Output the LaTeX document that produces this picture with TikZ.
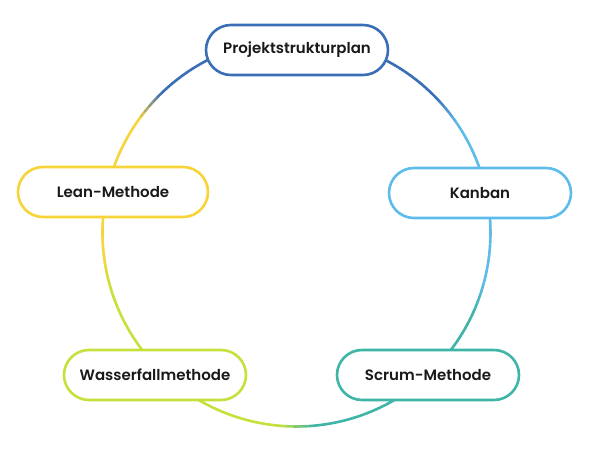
\documentclass[tikz,border=0pt]{standalone}
\usepackage{fontspec}
\setmainfont{Poppins}[BoldFont={Poppins SemiBold}]
\usetikzlibrary{calc}

\definecolor{pspblue}{RGB}{58,110,182}
\definecolor{kbblue}{RGB}{94,188,234}
\definecolor{scteal}{RGB}{62,181,166}
\definecolor{wflime}{RGB}{200,224,60}
\definecolor{lnyellow}{RGB}{247,212,58}

\begin{document}
\begin{tikzpicture}[x=1pt,y=1pt,
  method/.style={draw, fill=white, line width=2.6pt, rounded corners=25pt,
    minimum width=182pt, minimum height=50pt, inner sep=0pt,
    text=black!90, font=\bfseries\fontsize{15}{17}\selectfont}]
\useasboundingbox (0,0) rectangle (600,454);
\coordinate (c) at (296.5,221.5);
% ring, each arc turns from one method colour to the next around \m
\foreach \s/\e/\m/\ca/\cb in {90/13.8/39/pspblue/kbblue, 13.8/-46/-19.7/kbblue/scteal,
    -46/-136/-90/scteal/wflime, 224/166/191.7/wflime/lnyellow, 166/90/139/lnyellow/pspblue}{
  \foreach \i in {0,...,39}{
    \pgfmathsetmacro\aa{\s+(\e-\s)*\i/40}
    \pgfmathsetmacro\ab{\s+(\e-\s)*(\i+1)/40}
    \pgfmathsetmacro\p{100*max(0,min(1,0.5-(0.5*(\aa+\ab)-\m)/(\e-\s)*abs(\e-\s)/10))}
    \draw[line width=2.6pt, line cap=round, draw={\ca!\p!\cb}]
      ($(c)+(\aa:194)$) arc[start angle=\aa, end angle=\ab, radius=194pt];
  }
}
\node[method, draw=pspblue] (psp) at (297,404) {Projektstrukturplan};
\node[method, draw=kbblue] (kanban) at (480,261) {Kanban};
\node[method, draw=scteal] (scrum) at (428,79) {Scrum-Methode};
\node[method, draw=wflime] (wasserfall) at (155,79) {Wasserfallmethode};
\node[method, draw=lnyellow, minimum width=190pt] (lean) at (113,262) {Lean-Methode};
\end{tikzpicture}
\end{document}
